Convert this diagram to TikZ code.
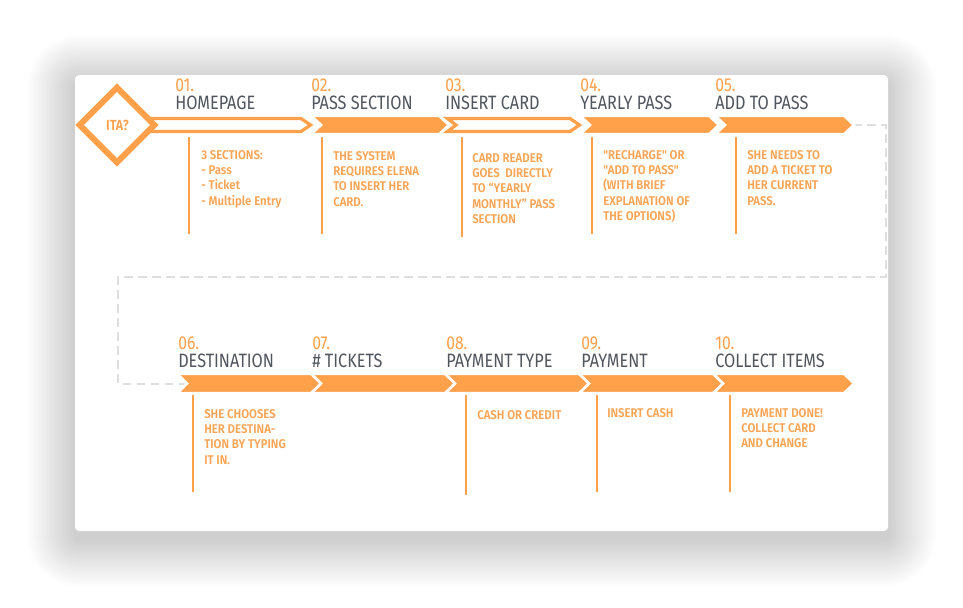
\documentclass[tikz,border=0pt]{standalone}
\usepackage{fontspec}
\usetikzlibrary{shapes.geometric}
\setmainfont{Fira Sans}
\newfontfamily\numfont[FakeStretch=0.84]{Fira Sans}
\newfontfamily\titlefont[FakeStretch=0.84]{Fira Sans}
\newfontfamily\bodyfont[FakeStretch=0.9]{Fira Sans SemiBold}
\newfontfamily\itafont[FakeStretch=0.85]{Fira Sans SemiBold}
\definecolor{band}{RGB}{255,160,75}
\definecolor{txtor}{RGB}{250,164,84}
\definecolor{ttl}{RGB}{80,86,94}
\definecolor{dashc}{RGB}{222,222,222}
\newcommand\txtlines[1]{\begin{tabular}[t]{@{}l@{}}#1\end{tabular}}
\tikzset{
  numtxt/.style={anchor=base west, inner sep=0pt, text depth=0pt, text=band, font=\numfont\fontsize{14}{14}\selectfont},
  ttltxt/.style={anchor=base west, inner sep=0pt, text=ttl, font=\titlefont\fontsize{14.5}{14.5}\selectfont},
  bodytxt/.style={anchor=base west, inner sep=0pt, text=txtor, font=\bodyfont\fontsize{9.5}{11.6}\selectfont},
  vline/.style={draw=band, line width=0.9pt},
  filledseg/.style={fill=band, draw=white, line width=2pt},
  outlineseg/.style={draw=band, fill=white, line width=2.4pt},
  dashline/.style={draw=dashc, line width=1.5pt, dash pattern=on 6.5pt off 4pt}
}
\def\chev#1#2#3#4{(#1,#3) -- ({#2-10},#3) -- (#2,{(#3+#4)/2}) -- ({#2-10},#4) -- (#1,#4) -- ({#1+10},{(#3+#4)/2}) -- cycle}
\begin{document}
\begin{tikzpicture}[x=0.75pt,y=-0.75pt]
\useasboundingbox (0,0) rectangle (963,607);
\fill[white] (0,0) rectangle (963,607);
% shadow
\foreach \i in {1,...,24}{
  \fill[black, opacity=0.008, rounded corners={(4+2*\i)*0.75pt}]
    ({75-2*\i},{75-2*\i+8}) rectangle ({888+2*\i},{531+2*\i+8});
}
% card
\fill[white, rounded corners=3pt] (75,75) rectangle (888,531);

% dashed connector
\coordinate (t5) at (853,125);
\coordinate (k1) at (886,125);
\coordinate (k2) at (886,277);
\coordinate (k3) at (118,277);
\coordinate (k4) at (118,383.5);
\coordinate (n6) at (188,383.5);
\draw[dashline] (t5) -- (k1) -- (k2) -- (k3) -- (k4) -- (n6);

% top row segments
\draw[outlineseg] (140,118.5) -- (301,118.5) -- (310.5,125) -- (301,131.5) -- (140,131.5) -- cycle;
\filldraw[filledseg] \chev{311}{449}{115.7}{134.3};
\draw[outlineseg] (447.5,118.5) -- (570,118.5) -- (579.5,125) -- (570,131.5) -- (447.5,131.5) -- (456,125) -- cycle;
\filldraw[filledseg] \chev{580}{719}{115.7}{134.3};
\filldraw[filledseg] \chev{715}{854}{115.7}{134.3};

% diamond
\node[draw=band, fill=white, line width=4.5pt, minimum width=58pt, minimum height=58pt, diamond, inner sep=0pt, shape aspect=1] (ita) at (117,125) {};
\node[text=band, font=\itafont\fontsize{11}{11}\selectfont, inner sep=0pt] (itatxt) at (117.5,125.5) {ITA?};

% bottom row segments
\filldraw[filledseg] \chev{177}{322}{373.7}{393.3};
\filldraw[filledseg] \chev{311}{456}{373.7}{393.3};
\filldraw[filledseg] \chev{445}{591}{373.7}{393.3};
\filldraw[filledseg] \chev{579}{725}{373.7}{393.3};
\filldraw[filledseg] \chev{713}{854}{373.7}{393.3};

% titles top
\node[numtxt] (n01) at (175,91) {01.};
\node[ttltxt] (h01) at (175,109) {HOMEPAGE};
\node[numtxt] (n02) at (311,91) {02.};
\node[ttltxt] (h02) at (311,109) {PASS SECTION};
\node[numtxt] (n03) at (445,91) {03.};
\node[ttltxt] (h03) at (445,109) {INSERT CARD};
\node[numtxt] (n04) at (580,91) {04.};
\node[ttltxt] (h04) at (580,109) {YEARLY PASS};
\node[numtxt] (n05) at (715,91) {05.};
\node[ttltxt] (h05) at (715,109) {ADD TO PASS};
% titles bottom
\node[numtxt] (n06) at (178,349) {06.};
\node[ttltxt] (h06) at (178,367) {DESTINATION};
\node[numtxt] (n07) at (312,349) {07.};
\node[ttltxt] (h07) at (312,367) {\# TICKETS};
\node[numtxt] (n08) at (446,349) {08.};
\node[ttltxt] (h08) at (446,367) {PAYMENT TYPE};
\node[numtxt] (n09) at (581,349) {09.};
\node[ttltxt] (h09) at (581,367) {PAYMENT};
\node[numtxt] (n10) at (715,349) {10.};
\node[ttltxt] (h10) at (715,367) {COLLECT ITEMS};

% vertical lines
\draw[vline] (189,137) -- (189,234);
\draw[vline] (322,137) -- (322,234);
\draw[vline] (462,137) -- (462,237);
\draw[vline] (592,137) -- (592,234);
\draw[vline] (736,137) -- (736,234);
\draw[vline] (193,395) -- (193,492);
\draw[vline] (466,395) -- (466,495);
\draw[vline] (597,395) -- (597,492);
\draw[vline] (730,395) -- (730,492);

% body texts
\node[bodytxt] (b01) at (201,159) {\txtlines{3 SECTIONS:\\- Pass\\- Ticket\\- Multiple Entry}};
\node[bodytxt] (b02) at (333,160) {\txtlines{THE SYSTEM\\REQUIRES ELENA\\TO INSERT HER\\CARD.}};
\node[bodytxt] (b03) at (472,162) {\txtlines{CARD READER\\GOES\ \ DIRECTLY\\TO “YEARLY\\MONTHLY” PASS\\SECTION}};
\node[bodytxt] (b04) at (603,159) {\txtlines{"RECHARGE" OR\\"ADD TO PASS"\\(WITH BRIEF\\EXPLANATION OF\\THE OPTIONS)}};
\node[bodytxt] (b05) at (747,159) {\txtlines{SHE NEEDS TO\\ADD A TICKET TO\\HER CURRENT\\PASS.}};
\node[bodytxt] (b06) at (204,418) {\txtlines{SHE CHOOSES\\HER DESTINA-\\TION BY TYPING\\IT IN.}};
\node[bodytxt] (b08) at (477,419) {\txtlines{CASH OR CREDIT}};
\node[bodytxt] (b09) at (607,417) {\txtlines{INSERT CASH}};
\node[bodytxt] (b10) at (741,417) {\txtlines{PAYMENT DONE!\\COLLECT CARD\\AND CHANGE}};
\end{tikzpicture}
\end{document}
